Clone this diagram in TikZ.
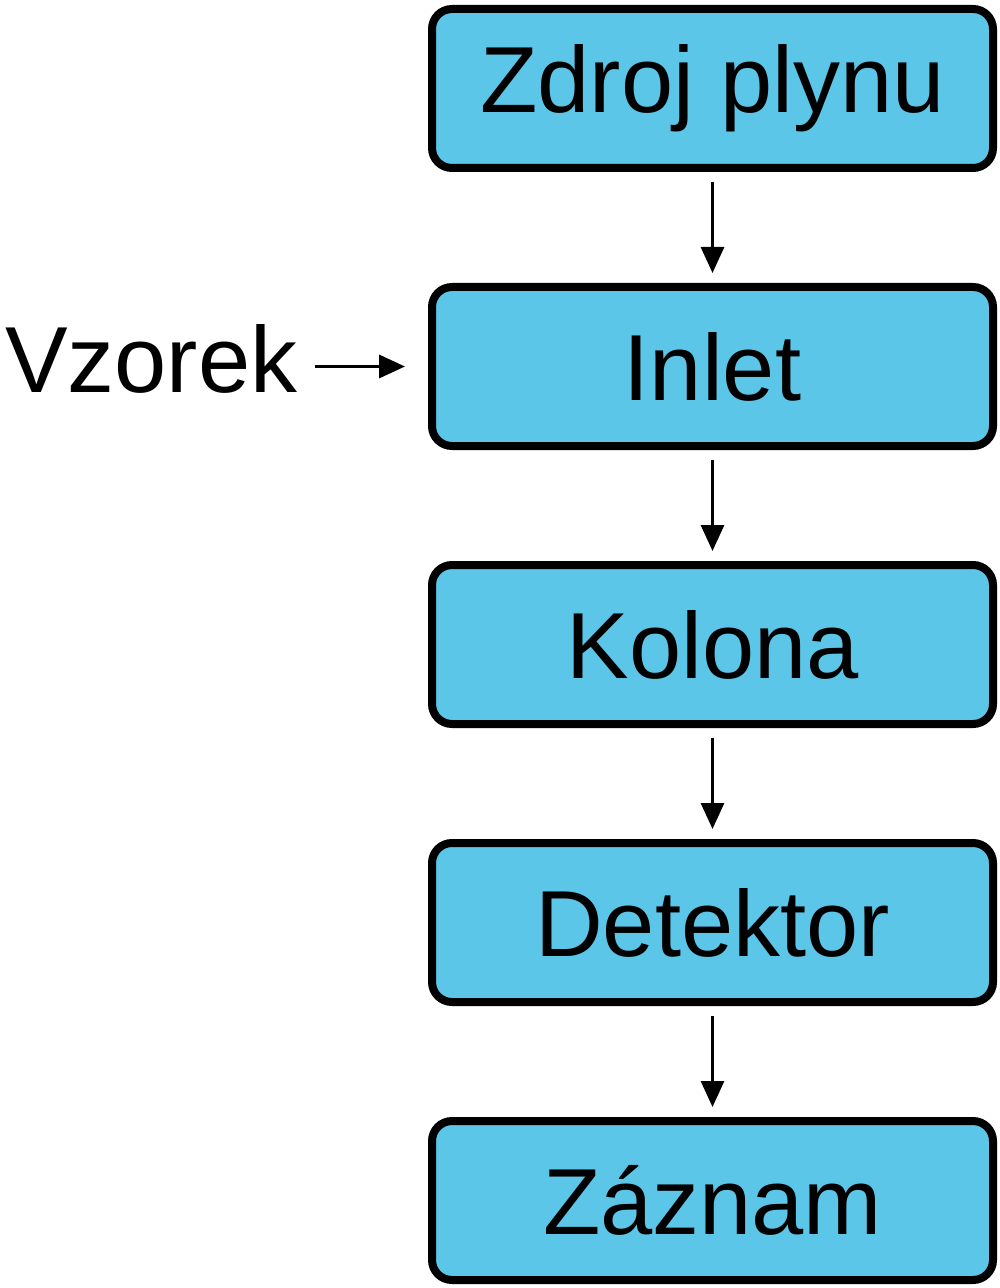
\documentclass[tikz,border=0pt]{standalone}
\usepackage{fontspec}
\setmainfont{Liberation Sans}
\usepackage{tikz}
\usetikzlibrary{positioning, arrows.meta}
\tikzset{>={Triangle[length=2.6mm, width=2.3mm]}}
\definecolor{mycyan}{RGB}{92, 198, 232}
\tikzset{
  stepbox/.style = {draw, line width = 0.8mm, fill = mycyan, rounded corners = 2mm,
    minimum width = 56.1mm, minimum height = 15.9mm, inner sep = 0,
    font = \fontsize{26.7}{32}\selectfont},
  flow/.style = {->, line width = 0.3mm, shorten <= 1mm, shorten >= 1mm}
}

\begin{document}
\begin{tikzpicture}

\useasboundingbox (0, 0) rectangle (10, -12.88); % reference margins

\node[stepbox] (zdroj) at (7.125, -0.885) {Zdroj plynu};
\node[stepbox, below = 11.1mm of zdroj] (inlet) {Inlet};
\node[stepbox, below = 11.1mm of inlet] (kolona) {Kolona};
\node[stepbox, below = 11.1mm of kolona] (detektor) {Detektor};
\node[stepbox, below = 11.1mm of detektor] (zaznam) {Záznam};

\node[left = 13mm of inlet, yshift = 0.8mm, inner sep = 0,
  font = \fontsize{26.7}{32}\selectfont] (vzorek) {Vzorek};

\draw[flow] (zdroj) -- (inlet);
\draw[flow] (inlet) -- (kolona);
\draw[flow] (kolona) -- (detektor);
\draw[flow] (detektor) -- (zaznam);
\draw[flow, line width = 0.35mm, shorten <= 1.7mm, shorten >= 2.3mm] (vzorek.east |- inlet.west) -- (inlet.west);

\end{tikzpicture}
\end{document}
